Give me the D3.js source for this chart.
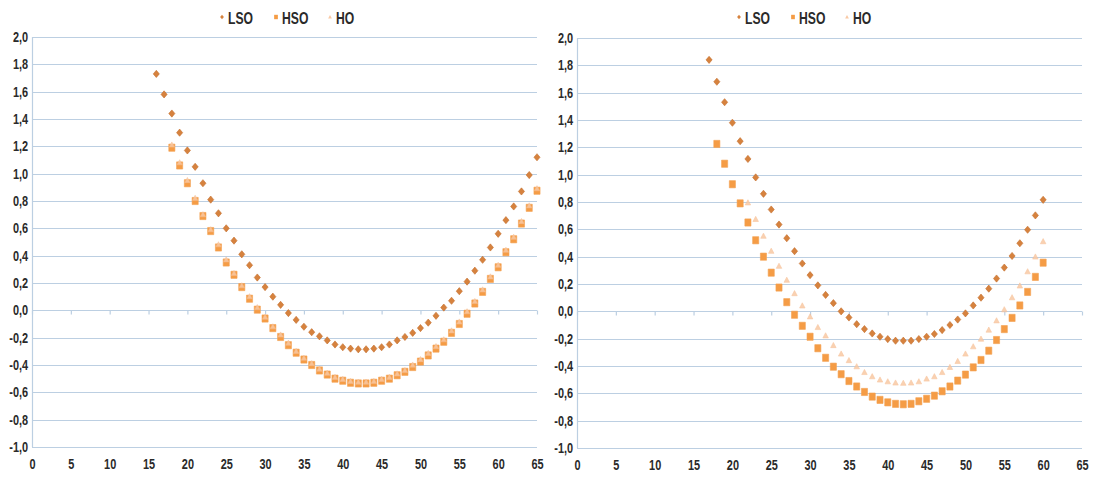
<!DOCTYPE html>
<html><head><meta charset="utf-8">
<script src="https://cdn.jsdelivr.net/npm/d3@7"></script>
<style>
html,body{margin:0;padding:0;background:#fff;}
text{font-family:"Liberation Sans","Arial",sans-serif;font-weight:bold;fill:#2a2a2a;}
</style></head>
<body><svg id="c" width="1096" height="480"></svg>
<script>
// ---- data ----
const seriesNames = ["LSO", "HSO", "HO"];
const yTicks = [2.0,1.8,1.6,1.4,1.2,1.0,0.8,0.6,0.4,0.2,0.0,-0.2,-0.4,-0.6,-0.8,-1.0];
const xTicks = [0,5,10,15,20,25,30,35,40,45,50,55,60,65];

// left panel
const leftLSOStart = 16;
const leftLSO = [1.73,1.58,1.44,1.30,1.17,1.05,0.93,0.81,0.71,0.60,0.51,0.41,0.33,0.24,0.17,0.10,0.04,-0.02,-0.07,-0.12,-0.16,-0.19,-0.22,-0.25,-0.27,-0.28,-0.285,-0.285,-0.28,-0.27,-0.25,-0.22,-0.195,-0.165,-0.13,-0.09,-0.04,0.02,0.07,0.14,0.21,0.29,0.37,0.46,0.56,0.66,0.76,0.87,0.99,1.12];
const leftHSOStart = 18;
const leftHSO = [1.19,1.06,0.93,0.80,0.69,0.58,0.46,0.35,0.26,0.17,0.085,0.005,-0.06,-0.13,-0.195,-0.255,-0.31,-0.36,-0.40,-0.44,-0.47,-0.50,-0.515,-0.53,-0.535,-0.535,-0.53,-0.515,-0.50,-0.475,-0.45,-0.415,-0.375,-0.33,-0.28,-0.23,-0.165,-0.10,-0.025,0.05,0.135,0.23,0.315,0.425,0.52,0.635,0.75,0.875];
const leftHOStart = 18;
const leftHO = [1.21,1.08,0.95,0.82,0.70,0.59,0.48,0.37,0.27,0.18,0.10,0.02,-0.05,-0.12,-0.18,-0.24,-0.30,-0.35,-0.39,-0.43,-0.46,-0.49,-0.505,-0.52,-0.525,-0.525,-0.52,-0.505,-0.49,-0.465,-0.44,-0.40,-0.36,-0.315,-0.265,-0.215,-0.15,-0.085,-0.01,0.065,0.15,0.245,0.33,0.44,0.535,0.65,0.765,0.89];

// right panel
const rightLSOStart = 17;
const rightLSO = [1.84,1.68,1.53,1.38,1.245,1.115,0.98,0.86,0.745,0.635,0.535,0.44,0.35,0.265,0.19,0.12,0.06,0.0,-0.045,-0.094,-0.13,-0.162,-0.186,-0.203,-0.215,-0.215,-0.215,-0.203,-0.186,-0.166,-0.137,-0.10,-0.06,-0.015,0.043,0.10,0.166,0.24,0.32,0.405,0.498,0.597,0.702,0.816];
const rightHSOStart = 18;
const rightHSO = [1.225,1.08,0.93,0.79,0.65,0.52,0.40,0.283,0.174,0.067,-0.025,-0.106,-0.186,-0.27,-0.34,-0.405,-0.46,-0.51,-0.55,-0.59,-0.624,-0.648,-0.666,-0.677,-0.68,-0.677,-0.658,-0.64,-0.617,-0.585,-0.55,-0.507,-0.463,-0.41,-0.356,-0.288,-0.21,-0.13,-0.048,0.043,0.142,0.252,0.356];
const rightHOStart = 22;
const rightHO = [0.794,0.673,0.55,0.44,0.33,0.228,0.13,0.04,-0.04,-0.118,-0.179,-0.25,-0.312,-0.36,-0.405,-0.447,-0.478,-0.502,-0.515,-0.524,-0.526,-0.524,-0.515,-0.495,-0.478,-0.447,-0.41,-0.366,-0.312,-0.259,-0.203,-0.137,-0.069,0.012,0.10,0.186,0.29,0.398,0.51];

// ---- drawing ----
const colors = {LSO:"#d6823e", HSO:"#f59c45", HO:"#f9c9a4"};
const strokeC = {LSO:"#c46e2e", HSO:"#f3a153", HO:"#f7bd92"};
const svg = d3.select("#c");
const gridColor = "#bccfe2";
const SX = 0.78; // condensed look

function shapePath(name, s){
  if(name==="LSO"){ return `M0,${-s}L${s*0.85},0L0,${s}L${-s*0.85},0Z`; }
  if(name==="HSO"){ const w=s*0.85, h=s; return `M${-w},${-h}H${w}V${h}H${-w}Z`; }
  const h=s*0.95; return `M0,${-h}L${h*0.9},${h*0.7}L${-h*0.9},${h*0.7}Z`;
}

function toPts(start, vals){ return vals.map((v,i)=>({x:start+i, y:v})); }

function panel(x0, x1, yTop, yBot, legendX, series){
  const xs = d3.scaleLinear().domain([0,65]).range([x0,x1]);
  const ys = d3.scaleLinear().domain([-1,2]).range([yBot,yTop]);
  const g = svg.append("g");
  // grid
  g.append("g").selectAll("line").data(yTicks).join("line")
    .attr("x1",x0).attr("x2",x1).attr("y1",d=>Math.round(ys(d))+0.5).attr("y2",d=>Math.round(ys(d))+0.5)
    .attr("stroke",gridColor).attr("stroke-width",1.2);
  // y axis line
  g.append("line").attr("x1",x0+0.5).attr("x2",x0+0.5).attr("y1",ys(2)).attr("y2",ys(-1))
    .attr("stroke",gridColor).attr("stroke-width",1.2);
  // x axis ticks on zero line
  const xAxis = d3.axisBottom(xs).tickValues(xTicks).tickSize(4).tickFormat("");
  const xa = g.append("g").attr("transform",`translate(0,${Math.round(ys(0))+0.5})`).call(xAxis);
  xa.select(".domain").remove();
  xa.selectAll("line").attr("stroke",gridColor).attr("stroke-width",1.2);
  // y labels
  const yAxis = d3.axisLeft(ys).tickValues(yTicks).tickSize(0).tickPadding(5)
    .tickFormat(d=>d3.format(".1f")(d).replace("−","-").replace(".",","));
  const ya = g.append("g").attr("transform",`translate(${x0},0)`).call(yAxis);
  ya.select(".domain").remove();
  ya.selectAll("text").attr("font-size",14).attr("font-family",null).attr("fill","#2a2a2a")
    .attr("transform",`scale(${SX},1)`);
  // x labels
  const xl = d3.axisBottom(xs).tickValues(xTicks).tickSize(0).tickPadding(0);
  const xla = g.append("g").attr("transform",`translate(0,${ys(-1)+12})`).call(xl);
  xla.select(".domain").remove();
  xla.selectAll("text").attr("font-size",14).attr("font-family",null).attr("fill","#2a2a2a")
    .attr("transform",`scale(${SX},1)`);
  // points
  series.forEach(s=>{
    g.append("g").selectAll("path").data(toPts(s.start,s.vals)).join("path")
      .attr("transform",d=>`translate(${xs(d.x)},${ys(d.y)})`)
      .attr("d",shapePath(s.name, s.name==="HO"?3.2:3.6))
      .attr("fill",colors[s.name]).attr("stroke",strokeC[s.name]).attr("stroke-width",0.6)
      .attr("opacity", s.name==="HO"?0.85:1);
  });
  // legend
  const lg = g.append("g").attr("transform",`translate(${legendX},18)`);
  const offs = [0, 54, 108];
  seriesNames.forEach((n,i)=>{
    lg.append("path").attr("transform",`translate(${offs[i]},-1)`).attr("d",shapePath(n,2.2))
      .attr("fill",colors[n]);
    lg.append("text").attr("transform",`translate(${offs[i]+6},5.5) scale(0.76,1)`)
      .attr("font-size",16).text(n);
  });
}

panel(32, 537, 37, 447, 222, [
  {name:"LSO", start:leftLSOStart, vals:leftLSO},
  {name:"HSO", start:leftHSOStart, vals:leftHSO},
  {name:"HO", start:leftHOStart, vals:leftHO}
]);
panel(577, 1082, 38, 448, 739, [
  {name:"LSO", start:rightLSOStart, vals:rightLSO},
  {name:"HSO", start:rightHSOStart, vals:rightHSO},
  {name:"HO", start:rightHOStart, vals:rightHO}
]);
</script></body></html>
